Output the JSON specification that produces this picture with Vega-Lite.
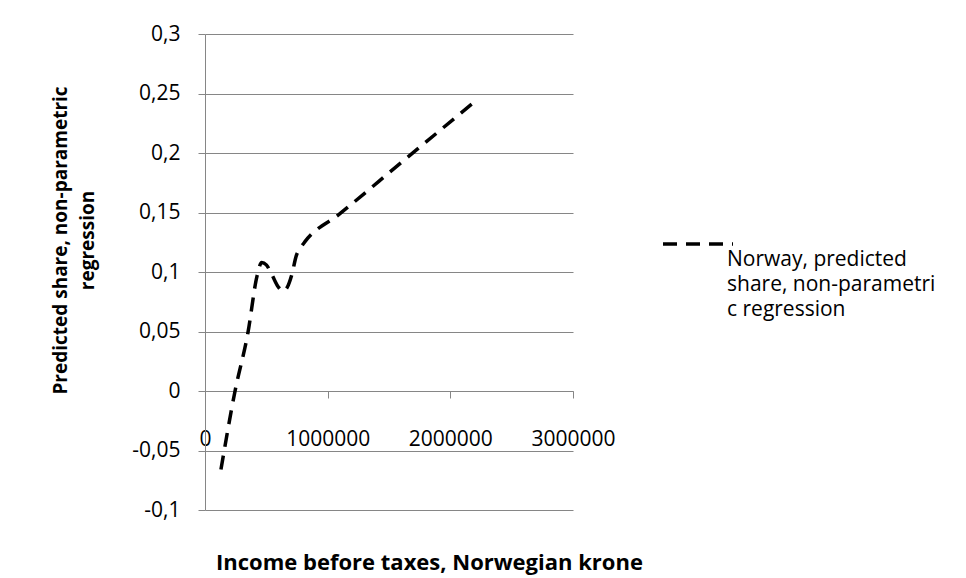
{
  "$schema": "https://vega.github.io/schema/vega-lite/v6.json",
  "width": 368,
  "height": 476,
  "autosize": {"type": "none"},
  "padding": {"left": 205, "top": 34, "right": 393, "bottom": 68},
  "background": "white",
  "data": {
    "values": [
      {"income": 130000, "share": -0.066, "series": "Norway"},
      {"income": 245000, "share": 0.0, "series": "Norway"},
      {"income": 350000, "share": 0.049, "series": "Norway"},
      {"income": 425000, "share": 0.097, "series": "Norway"},
      {"income": 462000, "share": 0.108, "series": "Norway"},
      {"income": 500000, "share": 0.106, "series": "Norway"},
      {"income": 544000, "share": 0.098, "series": "Norway"},
      {"income": 600000, "share": 0.087, "series": "Norway"},
      {"income": 638000, "share": 0.084, "series": "Norway"},
      {"income": 670000, "share": 0.087, "series": "Norway"},
      {"income": 707000, "share": 0.0975, "series": "Norway"},
      {"income": 745000, "share": 0.114, "series": "Norway"},
      {"income": 780000, "share": 0.1205, "series": "Norway"},
      {"income": 815000, "share": 0.1255, "series": "Norway"},
      {"income": 1100000, "share": 0.149, "series": "Norway"},
      {"income": 1600000, "share": 0.192, "series": "Norway"},
      {"income": 2185000, "share": 0.242, "series": "Norway"}
    ]
  },
  "mark": {"type": "line", "strokeWidth": 3.5, "strokeDash": [14, 9], "interpolate": "monotone"},
  "encoding": {
    "x": {
      "field": "income",
      "type": "quantitative",
      "scale": {"domain": [0, 3000000], "nice": false, "zero": false},
      "axis": {
        "offset": -119,
        "values": [0, 1000000, 2000000, 3000000],
        "format": "d",
        "grid": false,
        "domainColor": "#868686",
        "tickColor": "#868686",
        "tickSize": 7,
        "labelFont": "Open Sans",
        "labelFontSize": 21,
        "labelColor": "#000000",
        "labelPadding": 30,
        "labelFlush": false,
        "labelOverlap": false,
        "title": "Income before taxes, Norwegian krone",
        "titleFont": "Open Sans",
        "titleFontSize": 22,
        "titleFontWeight": "bold",
        "titleColor": "#000000",
        "titleX": 224,
        "titleY": 161,
        "titleAnchor": "middle",
        "titleAlign": "center",
        "titleBaseline": "top"
      }
    },
    "y": {
      "field": "share",
      "type": "quantitative",
      "scale": {"domain": [-0.1, 0.3], "nice": false, "zero": false},
      "axis": {
        "values": [-0.1, -0.05, 0, 0.05, 0.1, 0.15, 0.2, 0.25, 0.3],
        "labelExpr": "replace(toString(datum.value), '.', ',')",
        "grid": true,
        "gridColor": "#868686",
        "gridWidth": 1,
        "domainColor": "#868686",
        "tickColor": "#868686",
        "tickSize": 7,
        "labelFont": "Open Sans",
        "labelFontSize": 21,
        "labelColor": "#000000",
        "labelPadding": 18,
        "labelFlush": false,
        "labelOverlap": false,
        "title": ["Predicted share, non-parametric", "regression"],
        "titleFont": "Open Sans",
        "titleFontSize": 19,
        "titleFontWeight": "bold",
        "titleColor": "#000000",
        "titleAngle": -90,
        "titleX": -139,
        "titleY": 206,
        "titleAlign": "center",
        "titleBaseline": "alphabetic",
        "titleLineHeight": 27
      }
    },
    "color": {
      "field": "series",
      "type": "nominal",
      "scale": {"range": ["#000000"]},
      "legend": {
        "title": null,
        "orient": "none",
        "legendX": 456,
        "legendY": 173,
        "symbolType": "stroke",
        "symbolSize": 4900,
        "symbolStrokeWidth": 3.5,
        "symbolDash": [14, 9],
        "labelExpr": "['Norway, predicted', 'share, non-parametri', 'c regression']",
        "labelFont": "Open Sans",
        "labelFontSize": 21,
        "labelColor": "#000000",
        "labelBaseline": "top",
        "labelOffset": -8,
        "labelLimit": 400,
        "encode": {"labels": {"update": {"lineHeight": {"value": 25}, "dy": {"value": 5}}}}
      }
    }
  },
  "config": {"view": {"stroke": null}}
}
